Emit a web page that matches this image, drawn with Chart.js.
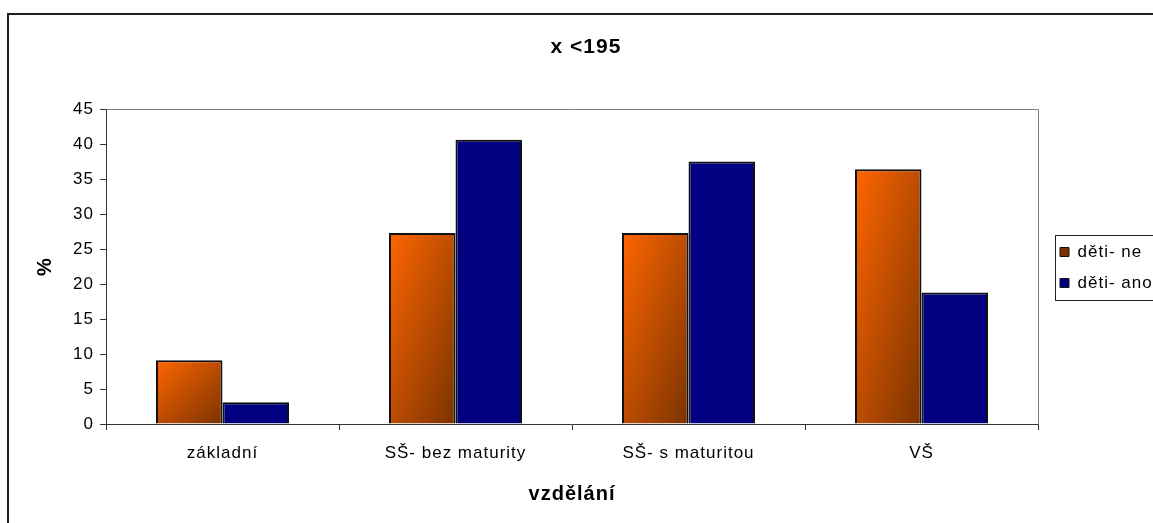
<!DOCTYPE html>
<html>
<head>
<meta charset="utf-8">
<script src="https://cdn.jsdelivr.net/npm/chart.js@4.4.1/dist/chart.umd.min.js"></script>
<style>
  html, body { margin: 0; padding: 0; background: #fff; overflow: hidden; width: 1153px; height: 523px; }
  #frame { position: absolute; left: 7px; top: 13px; width: 1300px; height: 700px;
           border-left: 2px solid #1f1f1f; border-top: 2px solid #1f1f1f; box-sizing: border-box; }
  #chart { position: absolute; left: 0; top: 0; }
</style>
</head>
<body>
<div id="frame"></div>
<canvas id="chart" width="1172" height="523"></canvas>
<script>
// Data
const categories = ['základní', 'SŠ- bez maturity', 'SŠ- s maturitou', 'VŠ'];
const seriesNames = ['děti- ne', 'děti- ano'];
const detiNe  = [9.1, 27.3, 27.3, 36.4];
const detiAno = [3.1, 40.6, 37.5, 18.8];
const yTickValues = [0, 5, 10, 15, 20, 25, 30, 35, 40, 45];
const chartTitle = 'x <195';
const xTitle = 'vzdělání';
const yTitle = '%';

// Style
const FONT = "'Liberation Sans', Arial, Helvetica, sans-serif";
const GROUP = 0.571;           // share of each category taken by the bar pair
const LEGEND_W = 134;
const LEGEND_SHIFT = 8;
const LEGEND_PAD = 14;
const LABEL_SIZE = 17;
const TEXT_SPACING = '1px';

Chart.defaults.color = '#000';
Chart.defaults.font.family = FONT;

// Diagonal orange-to-brown fill for each bar of the first series
function orangeFill(c) {
  const chart = c.chart;
  if (c.type !== 'data' || !chart.chartArea) return '#F86400';
  const xs = chart.scales.x, ys = chart.scales.y;
  const w = (xs.width / categories.length) * GROUP / 2;
  const cx = xs.getPixelForValue(c.dataIndex);
  const left = cx - w;
  const top = ys.getPixelForValue(c.raw);
  const h = Math.max(1, ys.getPixelForValue(0) - top);
  const k = 2 * w * h / (w * w + h * h);
  const g = chart.ctx.createLinearGradient(left, top, left + k * h, top + k * w);
  g.addColorStop(0, '#FF6600');
  g.addColorStop(1, '#7A3300');
  return g;
}

const framePlugin = {
  id: 'framePlugin',
  beforeUpdate(chart) { chart.ctx.letterSpacing = TEXT_SPACING; },
  beforeLayout(chart) {
    const lg = chart.legend;
    if (lg && !lg.__fixedWidth) {
      const fit = lg.fit.bind(lg);
      lg.fit = function () { fit(); this.width = LEGEND_W; };
      lg.__fixedWidth = true;
    }
  },
  afterLayout(chart) {
    const lg = chart.legend;
    if (lg) { lg.left += LEGEND_SHIFT; lg.right += LEGEND_SHIFT; }
  },
  beforeDraw(chart) { chart.ctx.letterSpacing = TEXT_SPACING; },
  afterDraw(chart) {
    const ctx = chart.ctx;
    const a = chart.chartArea;
    ctx.save();
    // plot area outline (top and right)
    ctx.strokeStyle = '#808080';
    ctx.lineWidth = 1;
    ctx.beginPath();
    ctx.moveTo(Math.round(a.left) + 0.5, Math.round(a.top) + 0.5);
    ctx.lineTo(Math.round(a.right) + 0.5, Math.round(a.top) + 0.5);
    ctx.lineTo(Math.round(a.right) + 0.5, Math.round(a.bottom) + 0.5);
    ctx.stroke();
    // legend frame
    const lg = chart.legend;
    const itemH = LABEL_SIZE;
    const colH = seriesNames.length * (itemH + LEGEND_PAD);
    const y0 = (lg.top + LEGEND_PAD + lg.bottom - colH) / 2;
    const top = Math.round(y0 - 8.5) + 0.5;
    const bottom = Math.round(y0 + colH - LEGEND_PAD + 8) + 0.5;
    const left = Math.round(lg.left + 9) + 0.5;
    ctx.strokeStyle = '#222';
    ctx.strokeRect(left, top, 400, bottom - top);
    ctx.restore();
  }
};

new Chart(document.getElementById('chart'), {
  type: 'bar',
  data: {
    labels: categories,
    datasets: [
      { label: seriesNames[0], data: detiNe, backgroundColor: orangeFill,
        borderColor: '#111', borderWidth: 2 },
      { label: seriesNames[1], data: detiAno, backgroundColor: '#000080',
        borderColor: '#111', borderWidth: 2 }
    ]
  },
  options: {
    responsive: false,
    animation: false,
    devicePixelRatio: 1,
    categoryPercentage: GROUP,
    barPercentage: 1.0,
    layout: { padding: { top: 12, left: 0, right: 0, bottom: 0 } },
    plugins: {
      tooltip: { enabled: false },
      title: {
        display: true, text: chartTitle, color: '#000',
        font: { family: FONT, size: 21, weight: 'bold' },
        padding: { top: 22.4, bottom: 49.4 }
      },
      legend: {
        position: 'right', align: 'center',
        labels: {
          boxWidth: 9, boxHeight: 9, padding: LEGEND_PAD, color: '#000',
          font: { family: FONT, size: LABEL_SIZE },
          generateLabels(chart) {
            const items = Chart.defaults.plugins.legend.labels.generateLabels(chart);
            items.forEach(it => { it.lineWidth = 1; });
            return items;
          }
        }
      }
    },
    scales: {
      x: {
        grid: { display: true, drawOnChartArea: false, drawTicks: true, tickLength: 6,
                color: '#333', offset: true },
        border: { display: true, color: '#333', width: 1 },
        ticks: { font: { family: FONT, size: LABEL_SIZE }, color: '#000', padding: 13,
                 maxRotation: 0, autoSkip: false },
        title: { display: true, text: xTitle, color: '#000',
                 font: { family: FONT, size: 20, weight: 'bold' },
                 padding: { top: 0, bottom: 17 } },
        afterFit(s) { s.height = 99; }
      },
      y: {
        min: 0, max: 45,
        afterBuildTicks(s) { s.ticks = yTickValues.map(v => ({ value: v })); },
        grid: { display: true, drawOnChartArea: false, drawTicks: true, tickLength: 6, color: '#333' },
        border: { display: true, color: '#333', width: 1 },
        ticks: { font: { family: FONT, size: LABEL_SIZE }, color: '#000', padding: 6 },
        title: { display: true, text: yTitle, color: '#000',
                 font: { family: FONT, size: 20, weight: 'bold' },
                 padding: { top: 33, bottom: 0 } },
        afterFit(s) { s.width = 106; }
      }
    }
  },
  plugins: [framePlugin]
});
</script>
</body>
</html>
